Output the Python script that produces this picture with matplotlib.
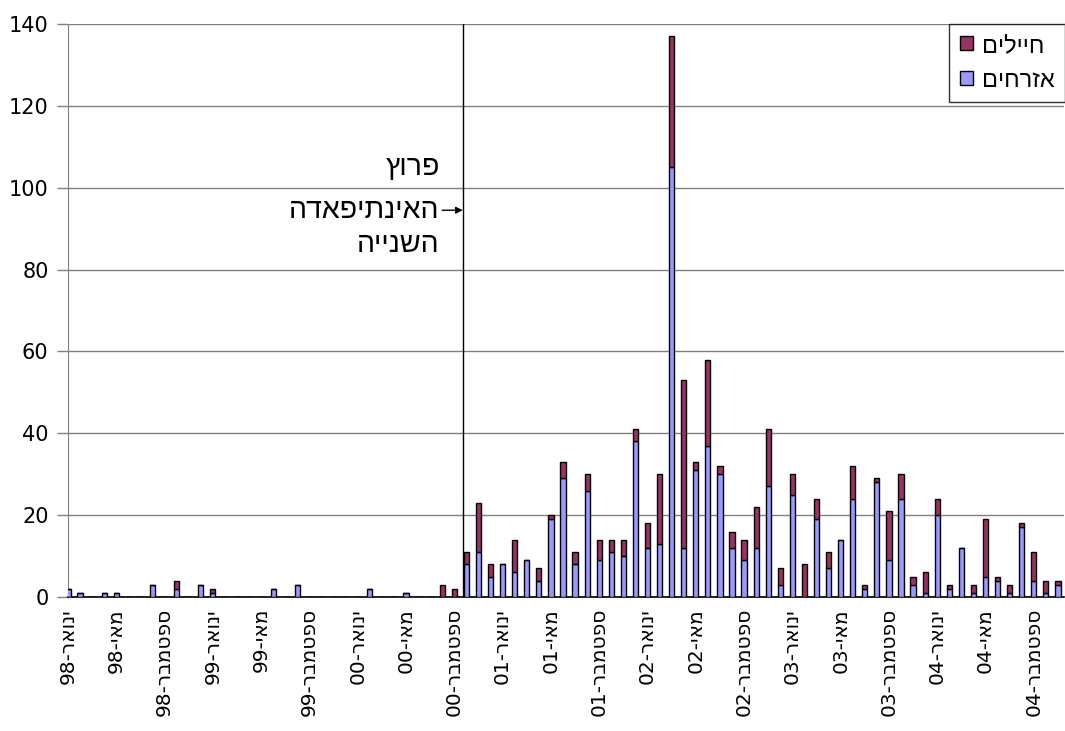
import matplotlib

matplotlib.use("Agg")
import matplotlib.pyplot as plt
import numpy as np

# monthly counts, January 1998 .. November 2004
years = ["98", "99", "00", "01", "02", "03", "04"]
label_months = ["ינואר", "מאי", "ספטמבר"]
civilians = [
    2, 1, 0, 1, 1, 0, 0, 3, 0, 2, 0, 3,
    1, 0, 0, 0, 0, 2, 0, 3, 0, 0, 0, 0,
    0, 2, 0, 0, 1, 0, 0, 0, 0, 8, 11, 5,
    8, 6, 9, 4, 19, 29, 8, 26, 9, 11, 10, 38,
    12, 13, 105, 12, 31, 37, 30, 12, 9, 12, 27, 3,
    25, 0, 19, 7, 14, 24, 2, 28, 9, 24, 3, 1,
    20, 2, 12, 1, 5, 4, 1, 17, 4, 1, 3,
]
soldiers = [
    0, 0, 0, 0, 0, 0, 0, 0, 0, 2, 0, 0,
    1, 0, 0, 0, 0, 0, 0, 0, 0, 0, 0, 0,
    0, 0, 0, 0, 0, 0, 0, 3, 2, 3, 12, 3,
    0, 8, 0, 3, 1, 4, 3, 4, 5, 3, 4, 3,
    6, 17, 32, 41, 2, 21, 2, 4, 5, 10, 14, 4,
    5, 8, 5, 4, 0, 8, 1, 1, 12, 6, 2, 5,
    4, 1, 0, 2, 14, 1, 2, 1, 7, 3, 1,
]
legend_labels = ["חיילים", "אזרחים"]
note_lines = ["פרוץ", "האינתיפאדה", "השנייה"]
outbreak = 32.7  # end of September 2000

HEB = ["Liberation Sans", "DejaVu Sans"]


def rtl(text):
    # matplotlib has no bidi support, so lay Hebrew out in visual order
    return text[::-1]


def month_label(month, year):
    return f"{year}-{rtl(month)}"


fig = plt.figure(figsize=(10.65, 7.31), dpi=100)
ax = fig.add_axes([68 / 1065, 134 / 731, 996 / 1065, 573 / 731])

x = np.arange(len(civilians))
civ = np.array(civilians)
sol = np.array(soldiers)
width = 0.43

blue = ax.bar(x, civ, width, color="#9999ff", edgecolor="black", linewidth=1, zorder=3)
red = ax.bar(x, sol, width, bottom=civ, color="#993366", edgecolor="black",
             linewidth=1, zorder=3)

ax.set_xlim(0, 82.5)
ax.set_ylim(0, 140)
ax.set_yticks(range(0, 141, 20))
ax.yaxis.grid(True, color="#808080", linewidth=1)
ax.set_axisbelow(True)

ticks = x[::4]
ax.set_xticks(ticks)
ax.set_xticklabels([month_label(m, y) for y in years for m in label_months],
                   rotation=90, va="top", ha="center")
ax.tick_params(axis="x", length=0, pad=8, labelsize=14.5)
ax.tick_params(axis="y", length=8, width=1, color="#808080", pad=6, labelsize=15)

for side in ("top", "right"):
    ax.spines[side].set_visible(False)
ax.spines["left"].set_color("#808080")
ax.spines["bottom"].set_color("black")
ax.spines["bottom"].set_linewidth(1.2)

ax.axvline(outbreak, color="black", linewidth=1, zorder=4)

# note about the outbreak, right aligned left of the line
note_x = 30.8
for text, y in zip(note_lines, [103, 92.5, 84.2]):
    ax.text(note_x, y, rtl(text), ha="right", va="baseline", fontsize=20.5,
            family=HEB)
ax.annotate("", xy=(outbreak, 94.5), xytext=(31.0, 94.5),
            arrowprops=dict(arrowstyle="-|>", color="black", lw=1,
                            mutation_scale=10, shrinkA=0, shrinkB=0))

leg = ax.legend([red, blue], [rtl(t) for t in legend_labels],
                loc="upper left", bbox_to_anchor=(949 / 1065, 1 - 24 / 731),
                bbox_transform=fig.transFigure, borderaxespad=0,
                fancybox=False, frameon=True, edgecolor="black",
                prop={"family": HEB, "size": 17}, handlelength=0.55,
                handleheight=0.55, handletextpad=0.4, labelspacing=0.55,
                borderpad=0.45)
leg.get_frame().set_linewidth(1)

fig.savefig("out.png", dpi=100)
